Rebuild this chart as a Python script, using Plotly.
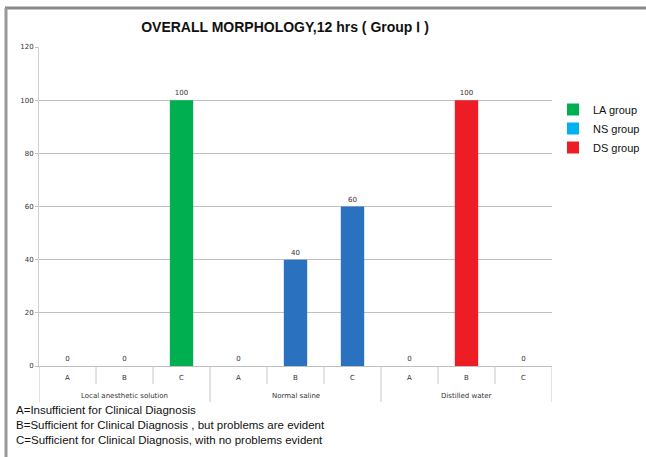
import plotly.graph_objects as go

groups = ["Local anesthetic solution", "Normal saline", "Distilled water"]
grades = ["A", "B", "C"]
series_names = ["LA group", "NS group", "DS group"]
la_values = [0, 0, 100]
ns_values = [0, 40, 60]
ds_values = [0, 100, 0]
legend_colors = ["#00B050", "#00B0F0", "#EE1C25"]
bar_colors = ["#00B050", "#2A72C0", "#EE1C25"]
y_ticks = [0, 20, 40, 60, 80, 100, 120]
title_text = "OVERALL MORPHOLOGY,12 hrs ( Group \u2160 )"
notes = [
    "A=Insufficient for Clinical Diagnosis",
    "B=Sufficient for Clinical Diagnosis , but problems are evident",
    "C=Sufficient for Clinical Diagnosis, with no problems evident",
]

W, H = 646, 457
L, R, T, B = 39, 552, 47, 366
pw, ph = R - L, B - T

def px(x):
    return (x - L) / pw

def py(y):
    return (B - y) / ph

cat_keys = [g + "|" + s for g in groups for s in grades]
cat_text = [s for g in groups for s in grades]

fig = go.Figure()
all_values = [la_values, ns_values, ds_values]
for gi, (name, vals) in enumerate(zip(series_names, all_values)):
    colors = [legend_colors[gi]] + [bar_colors[gi]] * (len(vals) - 1)
    fig.add_trace(go.Bar(
        x=[groups[gi] + "|" + s for s in grades],
        y=vals,
        name=name,
        width=0.41,
        marker=dict(color=colors, line=dict(width=0)),
        text=[str(v) for v in vals],
        textposition="outside",
        textfont=dict(size=7, color="#333333", family="DejaVu Sans"),
        cliponaxis=False,
    ))

font_fam = "Liberation Sans, Arial, sans-serif"

fig.update_layout(
    width=W, height=H,
    margin=dict(l=L, r=W - R, t=T, b=H - B, pad=0, autoexpand=False),
    paper_bgcolor="white", plot_bgcolor="white",
    barmode="overlay",
    showlegend=True,
    legend=dict(xref="container", yref="container", x=553 / W, y=1 - 95 / H,
                xanchor="left", yanchor="top",
                font=dict(size=11, family=font_fam, color="#111111"),
                itemwidth=30, tracegroupgap=0, bgcolor="rgba(0,0,0,0)"),
    title=dict(text="<b>" + title_text + "</b>", xref="container", x=285 / W, xanchor="center",
               yref="container", y=1 - 27 / H, yanchor="middle",
               font=dict(size=14, family=font_fam, color="#111111")),
    font=dict(family="DejaVu Sans", size=7, color="#404040"),
)
fig.update_yaxes(
    range=[0, 120], tickvals=y_ticks, showgrid=True, gridcolor="#C0C0C0", gridwidth=1,
    showline=True, linecolor="#D0D0D0", ticks="outside", ticklen=3, tickcolor="#C0C0C0",
    tickfont=dict(size=7, color="#333333"), zeroline=False,
)
fig.update_xaxes(
    type="category", categoryorder="array", categoryarray=cat_keys,
    tickvals=cat_keys, ticktext=cat_text, range=[-0.5, len(cat_keys) - 0.5],
    showline=True, linecolor="#C0C0C0", ticks="", showgrid=False,
    ticklabelstandoff=5,
    tickfont=dict(size=7, color="#333333"),
)

# category boundary lines below the axis
for i in range(len(cat_keys) + 1):
    is_group = i % len(grades) == 0
    y_end = 402 if is_group else 384
    fig.add_shape(type="line", xref="x", yref="paper", x0=i - 0.5, x1=i - 0.5,
                  y0=0, y1=py(y_end), line=dict(color="#C8C8C8", width=1))

for gi, g in enumerate(groups):
    fig.add_annotation(text=g, xref="x", yref="paper", x=gi * len(grades) + 1, y=py(396),
                       xanchor="center", yanchor="middle", showarrow=False,
                       font=dict(size=7, color="#333333"))

fig.add_shape(type="line", xref="paper", yref="paper", x0=px(5), x1=px(646), y0=py(8), y1=py(8),
              line=dict(color="#888888", width=3))
fig.add_shape(type="line", xref="paper", yref="paper", x0=px(6), x1=px(6), y0=py(8), y1=py(457),
              line=dict(color="#999999", width=3))

for i, t in enumerate(notes):
    fig.add_annotation(text=t, xref="paper", yref="paper", x=px(14), y=py(410 + 15 * i),
                       xanchor="left", yanchor="middle", showarrow=False,
                       font=dict(size=11.5, family=font_fam, color="#111111"))

fig.write_html("out.html", config={"displayModeBar": False},
               post_script="document.body.style.margin='0';")
